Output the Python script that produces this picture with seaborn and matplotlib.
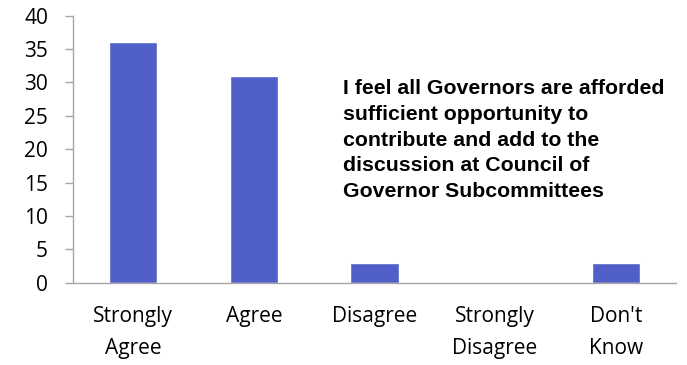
import matplotlib
matplotlib.use("Agg")
import matplotlib.pyplot as plt
import seaborn as sns
import pandas as pd

categories = ["Strongly\nAgree", "Agree", "Disagree", "Strongly\nDisagree", "Don't\nKnow"]
counts = [36, 31, 3, 0, 3]
y_ticks = [0, 5, 10, 15, 20, 25, 30, 35, 40]
title_text = ("I feel all Governors are afforded\nsufficient opportunity to\n"
              "contribute and add to the\ndiscussion at Council of\nGovernor Subcommittees")

sns.set_theme(style="white")
plt.rcParams["font.family"] = ["Open Sans", "DejaVu Sans"]

df = pd.DataFrame({"category": categories, "count": counts})

fig = plt.figure(figsize=(6.87, 3.65), dpi=100)
ax = fig.add_axes([73 / 687, 1 - 282.7 / 365, (676 - 73) / 687, (282.7 - 15.7) / 365])

sns.barplot(data=df, x="category", y="count", color="#5060c8", saturation=1,
            width=0.4, ax=ax)

ax.set_ylim(0, 40)
ax.set_xlim(-0.5, len(categories) - 0.5)
ax.set_yticks(y_ticks)
ax.set_xlabel("")
ax.set_ylabel("")

axis_grey = "#a6a6a6"
for side in ["top", "right"]:
    ax.spines[side].set_visible(False)
for side in ["left", "bottom"]:
    ax.spines[side].set_color(axis_grey)
    ax.spines[side].set_linewidth(1.0)

# category boundary ticks on the x axis
ax.set_xticks([i + 0.5 for i in range(-1, len(categories))], minor=True)
ax.tick_params(axis="x", which="minor", length=6, width=1, color=axis_grey, direction="out")
ax.tick_params(axis="x", which="major", length=0, labelsize=15, pad=17,
               labelcolor="#000000")
ax.tick_params(axis="y", length=6, width=1, color=axis_grey, direction="out",
               labelsize=15, pad=12, labelcolor="#000000")
ax.tick_params(left=True, bottom=True)
for lbl in ax.get_xticklabels():
    lbl.set_linespacing(1.65)

ax.text(343 / 687, 1 - 79 / 365, title_text, transform=fig.transFigure,
        ha="left", va="top", fontsize=15.3, fontweight="bold",
        family=["Liberation Sans", "DejaVu Sans"], linespacing=1.45, color="#000000")

fig.savefig("out.png", dpi=100)
